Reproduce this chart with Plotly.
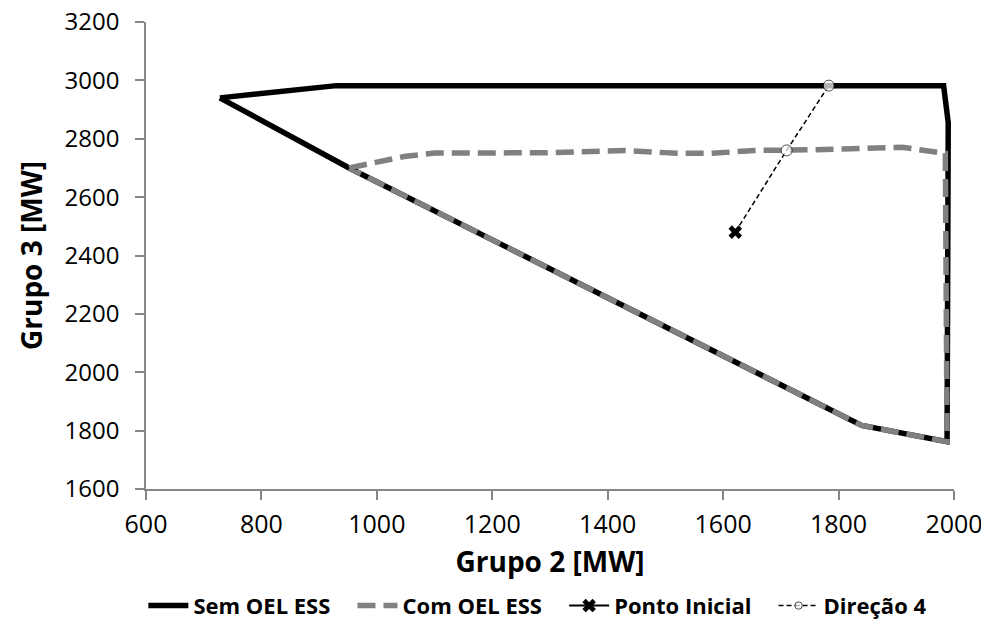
import plotly.graph_objects as go

# Sem OEL ESS (região sem restrição)
sem_x = [728, 930, 1982, 1990, 1988, 1840, 952, 728]
sem_y = [2940, 2982, 2982, 2855, 1762, 1818, 2700, 2940]

# Com OEL ESS
com_x = [952, 1050, 1100, 1200, 1300, 1430, 1520, 1580, 1655, 1750, 1850, 1910, 1985, 1988, 1840, 952]
com_y = [2700, 2740, 2751, 2751, 2752, 2760, 2750, 2750, 2760, 2762, 2769, 2771, 2750, 1762, 1818, 2700]

# Ponto inicial e direção 4
p0_x = [1621]
p0_y = [2480]
dir_x = [1621, 1710, 1783]
dir_y = [2480, 2760, 2982]

FONT = "Open Sans"
PAD = "\u00a0\u00a0\u00a0"  # extra room between legend entries

fig = go.Figure()

fig.add_trace(go.Scatter(
    x=sem_x, y=sem_y, mode="lines", name="Sem OEL ESS" + PAD,
    line=dict(color="black", width=5.5)
))
fig.add_trace(go.Scatter(
    x=com_x, y=com_y, mode="lines", name="Com OEL ESS" + PAD,
    line=dict(color="#808080", width=5.5, dash="18px,8px")
))
fig.add_trace(go.Scatter(
    x=p0_x, y=p0_y, mode="lines+markers", name="Ponto Inicial" + PAD,
    line=dict(color="black", width=2),
    marker=dict(symbol="x", size=12, color="black", line=dict(width=0))
))
fig.add_trace(go.Scatter(
    x=dir_x, y=dir_y, mode="lines+markers", name="Direção 4",
    line=dict(color="black", width=1.5, dash="5px,3px"),
    marker=dict(symbol="circle", size=[0, 11, 11], color="white",
                line=dict(color="black", width=1))
))

# page body has an 8px margin, so figure is 8px smaller than the window
fig.update_layout(
    width=981, height=620,
    margin=dict(l=138, r=35, t=14, b=139, autoexpand=False),
    plot_bgcolor="white", paper_bgcolor="white",
    font=dict(family=FONT, color="black", size=24),
    showlegend=True,
    legend=dict(
        orientation="h", x=0.485, xanchor="center", y=-0.25, yanchor="middle",
        font=dict(family=FONT, size=22, color="black", weight="bold"),
        itemwidth=40, tracegroupgap=0, traceorder="normal",
    ),
)

fig.update_xaxes(
    range=[600, 2000], tickvals=list(range(600, 2001, 200)),
    showgrid=False, zeroline=False, automargin=False,
    showline=True, linecolor="#868686", linewidth=1.5,
    ticks="outside", ticklen=9, tickcolor="#868686", tickwidth=1.5,
    tickfont=dict(size=25), ticklabelstandoff=3, ticklabeloverflow="allow",
    title=dict(text="<b>Grupo 2 [MW]</b>", font=dict(size=28), standoff=14),
)
fig.update_yaxes(
    range=[1600, 3200], tickvals=list(range(1600, 3201, 200)),
    showgrid=False, zeroline=False, automargin=False,
    showline=True, linecolor="#868686", linewidth=1.5,
    ticks="outside", ticklen=9, tickcolor="#868686", tickwidth=1.5,
    tickfont=dict(size=24), ticklabelstandoff=11, ticklabeloverflow="allow",
    title=dict(text="<b>Grupo 3 [MW]</b>", font=dict(size=28), standoff=14),
)

fig.write_html("out.html")
